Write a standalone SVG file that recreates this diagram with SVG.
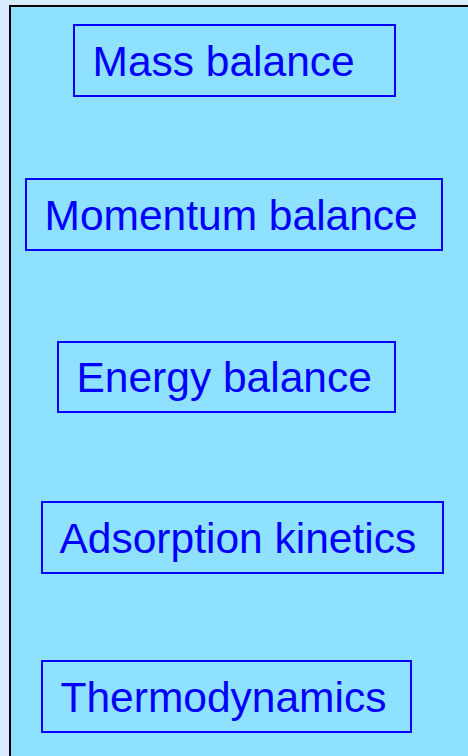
<svg xmlns="http://www.w3.org/2000/svg" width="468" height="756" viewBox="0 0 468 756">
<style>
.box{fill:none;stroke:#0000ff;stroke-width:2}
.lbl{font-family:"Liberation Sans",Arial,sans-serif;font-size:42.5px;fill:#0000ff}
</style>
<rect x="0" y="0" width="468" height="756" fill="#d9ecff"/>
<rect x="10" y="6" width="470" height="760" fill="#8ee1ff" stroke="#000" stroke-width="2"/>
<g id="mass"><rect class="box" x="74" y="25" width="321" height="71"/><text class="lbl" x="92.5" y="76">Mass balance</text></g>
<g id="momentum"><rect class="box" x="26" y="179" width="416" height="71"/><text class="lbl" x="44.5" y="230">Momentum balance</text></g>
<g id="energy"><rect class="box" x="58" y="342" width="337" height="70"/><text class="lbl" x="76.5" y="392">Energy balance</text></g>
<g id="adsorption"><rect class="box" x="42" y="502" width="401" height="71"/><text class="lbl" x="59.5" y="553">Adsorption kinetics</text></g>
<g id="thermo"><rect class="box" x="42" y="661" width="369" height="71"/><text class="lbl" x="60.5" y="712">Thermodynamics</text></g>
<g id="connectors"></g>
</svg>
